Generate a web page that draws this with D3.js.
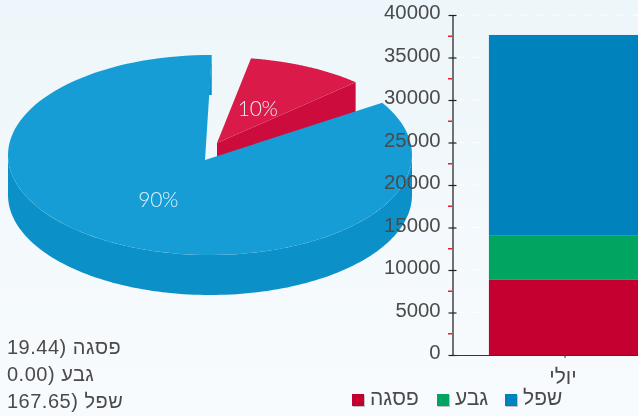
<!DOCTYPE html>
<html>
<head>
<meta charset="utf-8">
<script src="https://cdn.jsdelivr.net/npm/d3@7"></script>
<style>
  html, body { margin: 0; padding: 0; background: #f2f8fc; }
  svg { display: block; filter: blur(0.45px); }
  text { font-family: "Liberation Sans", sans-serif; }
</style>
</head>
<body>
<svg width="638" height="416"></svg>
<script>
// pie
var pieNames = ["פסגה", "גבע", "שפל"];
var pieValues = [19.44, 0.00, 167.65];

// stacked bar
var months = ["יולי"];
var stackNames = ["פסגה", "גבע", "שפל"];
var stackValues = [[8900], [5200], [23550]];
var yTicks = [0, 5000, 10000, 15000, 20000, 25000, 30000, 35000, 40000];
var yMinorTicks = [2500, 7500, 12500, 17500, 22500, 27500, 32500, 37500];

var svg = d3.select("svg");
var rad = Math.PI / 180;

// background
var defs = svg.append("defs");
var bg = defs.append("linearGradient").attr("id", "bg").attr("x1", 0).attr("x2", 0).attr("y1", 0).attr("y2", 1);
bg.append("stop").attr("offset", 0).attr("stop-color", "#edf6fa");
bg.append("stop").attr("offset", 1).attr("stop-color", "#f8fbfe");
svg.append("rect").attr("width", 638).attr("height", 416).attr("fill", "url(#bg)");

// ---- 3d pie ----
var depth = 40;
var sliceGeom = {
  "פסגה": { cx: 217, cy: 143, rx: 196, ry: 86, apexX: 217, apexY: 143, turn: 0, labelAt: 0.45, top: "#da1a48", side: "#cc0c3c" },
  "שפל": { cx: 210, cy: 155, rx: 202, ry: 100, apexX: 205, apexY: 160, turn: 2, labelAt: 0.52, top: "#169dd6", side: "#0b91c8" }
};

var pie = d3.pie().sort(null).value(function(d) { return d.value; })
  .startAngle(10 * rad).endAngle(370 * rad).padAngle(11.5 * rad);

var total = d3.sum(pieValues);
var slices = pie(pieNames.map(function(n, i) { return { name: n, value: pieValues[i] }; })
  .filter(function(d) { return d.value > 0; }));

var line = d3.line();

function rim(g, a, dy) {
  return [g.cx + g.rx * Math.sin(a), g.cy - g.ry * Math.cos(a) + (dy || 0)];
}
function rimPoints(g, a0, a1, dy) {
  var n = 120, pts = [];
  for (var i = 0; i <= n; i++) pts.push(rim(g, a0 + (a1 - a0) * i / n, dy));
  return pts;
}

var pieG = svg.append("g");
slices.forEach(function(d) {
  var g = sliceGeom[d.data.name];
  var a0 = d.startAngle + g.turn * rad, a1 = d.endAngle - d.padAngle + g.turn * rad;
  d.mid = (a0 + a1) / 2;

  // outer wall, front half of the ellipse only
  var w0 = Math.max(a0, 90 * rad), w1 = Math.min(a1, 270 * rad);
  if (w1 > w0) {
    var wall = rimPoints(g, w0, w1, 0).concat(rimPoints(g, w1, w0, depth));
    pieG.append("path").attr("d", line(wall) + "Z").attr("fill", g.side);
  }
  // cut faces
  var endRim = rim(g, a1);
  if (a1 < 180 * rad) {
    pieG.append("path")
      .attr("d", line([[g.apexX, g.apexY], endRim, [endRim[0], endRim[1] + depth], [g.apexX, g.apexY + depth]]) + "Z")
      .attr("fill", g.side);
  } else {
    pieG.append("path")
      .attr("d", line([endRim, [endRim[0], endRim[1] + depth], [endRim[0] - 3, endRim[1] + depth]]) + "Z")
      .attr("fill", g.side);
  }
  // top face
  var top = [[g.apexX, g.apexY]].concat(rimPoints(g, a0, a1, 0));
  pieG.append("path").attr("d", line(top) + "Z").attr("fill", g.top);
});

// percent labels
slices.forEach(function(d) {
  var g = sliceGeom[d.data.name];
  svg.append("text")
    .attr("x", g.cx + g.rx * g.labelAt * Math.sin(d.mid))
    .attr("y", g.cy - g.ry * g.labelAt * Math.cos(d.mid) + 7)
    .attr("text-anchor", "middle")
    .attr("fill", "#e4f2f9")
    .style("font-family", "Lato")
    .style("font-size", "21px")
    .style("font-weight", 300)
    .style("letter-spacing", "-0.3px")
    .text(d3.format(".0f")(d.value / total * 100) + "%");
});

// value list under the pie
pieNames.forEach(function(n, i) {
  svg.append("text")
    .attr("x", 7)
    .attr("y", 354 + i * 27)
    .attr("fill", "#4a4a4a")
    .style("font-size", "20px")
    .style("letter-spacing", "0.5px")
    .text(n + " (" + d3.format(".2f")(pieValues[i]));
});

// ---- stacked bar ----
var x = d3.scaleBand().domain(months).range([453, 677]).paddingInner(0.191).paddingOuter(0.191);
var y = d3.scaleLinear().domain([0, 40000]).range([355, 15]);
var color = d3.scaleOrdinal().domain(stackNames).range(["#c3002f", "#00a562", "#0082bc"]);

svg.append("g").selectAll("line").data(yTicks).enter().append("line")
  .attr("x1", 457).attr("x2", 638)
  .attr("y1", function(d) { return y(d); }).attr("y2", function(d) { return y(d); })
  .attr("stroke", "#fff").attr("stroke-dasharray", "7,9");

var stacked = d3.stack().keys(d3.range(stackNames.length))
  .value(function(row, k) { return stackValues[k][row]; })(d3.range(months.length));

svg.append("g").selectAll("g").data(stacked).enter().append("g")
  .attr("fill", function(s) { return color(stackNames[s.key]); })
  .selectAll("rect").data(function(s) { return s; }).enter().append("rect")
  .attr("x", function(d, i) { return x(months[i]); })
  .attr("width", x.bandwidth())
  .attr("y", function(d) { return y(d[1]); })
  .attr("height", function(d) { return y(d[0]) - y(d[1]); });

var yAxis = svg.append("g").attr("transform", "translate(452.5,0)")
  .call(d3.axisLeft(y).tickValues(yTicks).tickFormat(d3.format("d")).tickSize(4).tickPadding(8).tickSizeOuter(0));
yAxis.select(".domain").attr("stroke", "#444").attr("stroke-width", 1.5);
yAxis.selectAll(".tick line").attr("x2", 4).attr("x1", -4).attr("stroke", "#222").attr("stroke-width", 1.2);
yAxis.selectAll(".tick text").attr("fill", "#4a4a4a").attr("y", -3).style("font-size", "20.3px").style("font-family", "'Liberation Sans'");

svg.append("g").selectAll("line").data(yMinorTicks).enter().append("line")
  .attr("x1", 448).attr("x2", 452)
  .attr("y1", function(d) { return y(d); }).attr("y2", function(d) { return y(d); })
  .attr("stroke", "#f01c24").attr("stroke-width", 1.5);

var xAxis = svg.append("g").attr("transform", "translate(0,355)")
  .call(d3.axisBottom(x).tickSize(3).tickPadding(11).tickSizeOuter(0));
xAxis.select(".domain").attr("stroke", "#333").attr("stroke-width", 1.2);
xAxis.selectAll(".tick line").attr("stroke", "#333");
xAxis.selectAll(".tick text").attr("fill", "#4a4a4a").attr("dx", -2).style("font-size", "21px").style("font-family", "'Liberation Sans'");

// legend
var legendX = d3.scaleOrdinal().domain(stackNames).range([352, 437, 505]);
var legend = svg.append("g").selectAll("g").data(stackNames).enter().append("g")
  .attr("transform", function(n) { return "translate(" + legendX(n) + ",394)"; });
legend.append("rect").attr("x", 1).attr("y", 1).attr("width", 12).attr("height", 12).attr("fill", "#999").attr("opacity", 0.6);
legend.append("rect").attr("width", 12).attr("height", 12).attr("fill", function(n) { return color(n); });
legend.append("text").attr("x", 18).attr("y", 11).attr("fill", "#4a4a4a").style("font-size", "21px")
  .text(function(n) { return n; });
</script>
</body>
</html>
